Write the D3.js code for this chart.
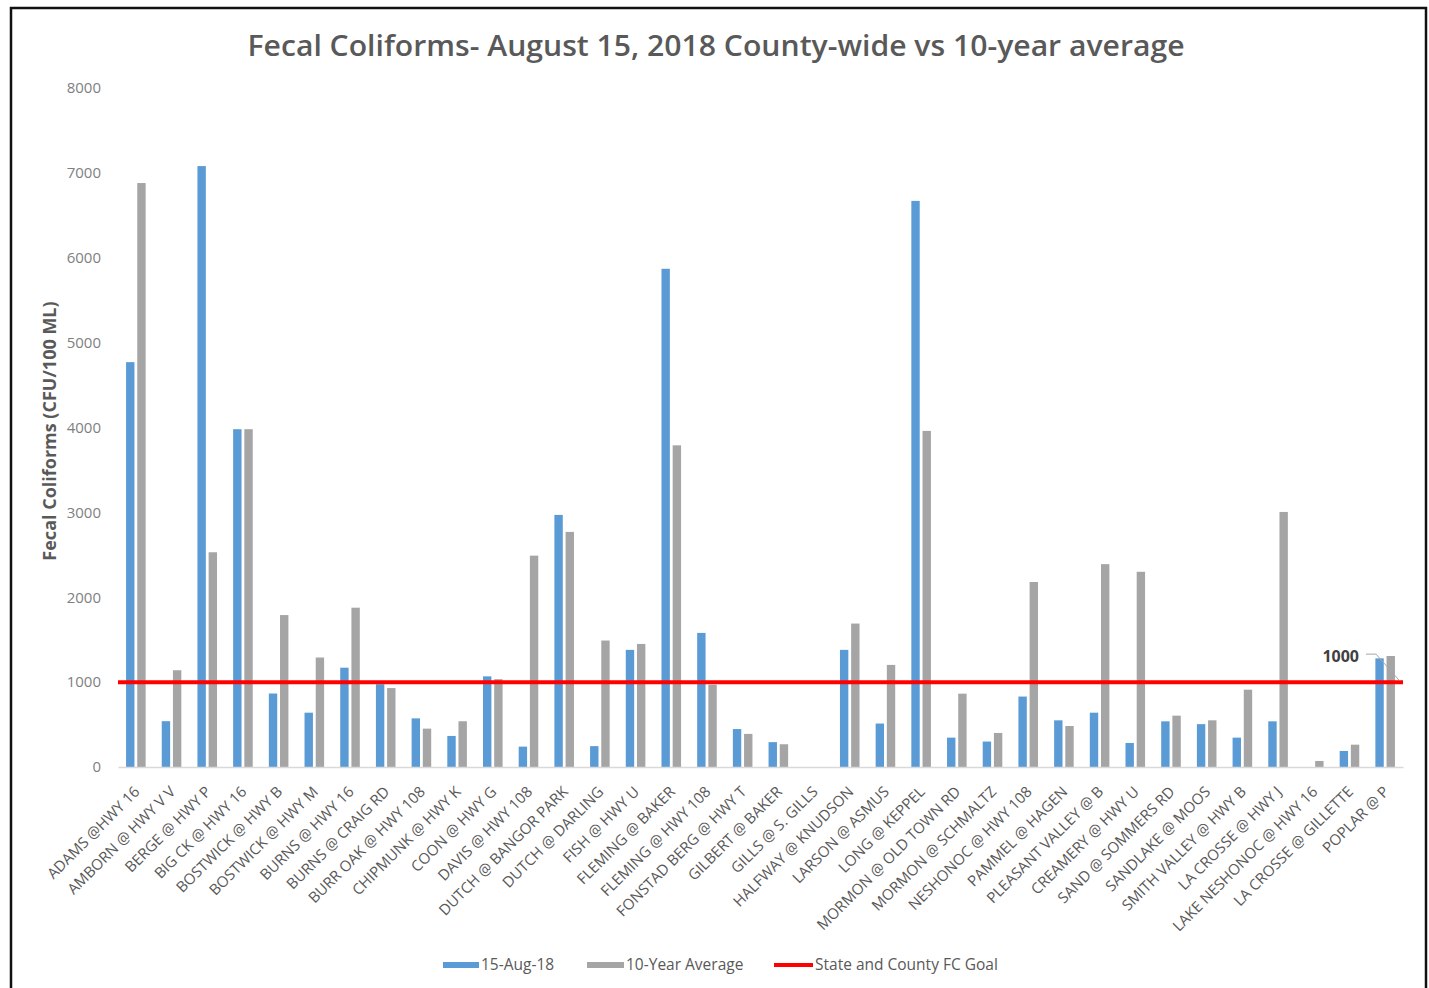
<!DOCTYPE html>
<html>
<head>
<meta charset="utf-8">
<script src="https://cdn.jsdelivr.net/npm/d3@7/dist/d3.min.js"></script>
<style>
  body { margin: 0; background: #fff; }
  text { font-family: "Open Sans", "Liberation Sans", sans-serif; }
</style>
</head>
<body>
<script>
// sampling sites, in chart order
const sites = [
  'ADAMS @HWY 16', 'AMBORN @ HWY V V', 'BERGE @ HWY P', 'BIG CK @ HWY 16',
  'BOSTWICK @ HWY B', 'BOSTWICK @ HWY M', 'BURNS @ HWY 16', 'BURNS @ CRAIG RD',
  'BURR OAK @ HWY 108', 'CHIPMUNK @ HWY K', 'COON @ HWY G', 'DAVIS @ HWY 108',
  'DUTCH @ BANGOR PARK', 'DUTCH @ DARLING', 'FISH @ HWY U', 'FLEMING @ BAKER',
  'FLEMING @ HWY 108', 'FONSTAD BERG @ HWY T', 'GILBERT @ BAKER', 'GILLS @ S. GILLS',
  'HALFWAY @ KNUDSON', 'LARSON @ ASMUS', 'LONG @ KEPPEL', 'MORMON @ OLD TOWN RD',
  'MORMON @ SCHMALTZ', 'NESHONOC @ HWY 108', 'PAMMEL @ HAGEN', 'PLEASANT VALLEY @ B',
  'CREAMERY @ HWY U', 'SAND @ SOMMERS RD', 'SANDLAKE @ MOOS', 'SMITH VALLEY @ HWY B',
  'LA CROSSE @ HWY J', 'LAKE NESHONOC @ HWY 16', 'LA CROSSE @ GILLETTE', 'POPLAR @ P'
];

// 15-Aug-18 sample
const aug15 = [
  4770, 540, 7080, 3980, 866, 640, 1170, 975,
  573, 366, 1068, 240, 2970, 246, 1380, 5870,
  1580, 447, 293, 0, 1380, 512, 6670, 346,
  300, 830, 550, 640, 283, 538, 505, 346,
  538, 0, 189, 1280
];

// 10-year average
const tenYearAvg = [
  6880, 1140, 2530, 3980, 1790, 1290, 1877, 930,
  452, 539, 1035, 2490, 2770, 1490, 1450, 3790,
  970, 390, 268, 0, 1690, 1203, 3960, 864,
  401, 2180, 483, 2390, 2300, 605, 550, 911,
  3005, 71, 263, 1308
];

const goal = 1000;
const yTicks = [0, 1000, 2000, 3000, 4000, 5000, 6000, 7000, 8000];
const seriesNames = ['15-Aug-18', '10-Year Average', 'State and County FC Goal'];
const colors = ['#5b9bd5', '#a5a5a5', '#ff0000'];

const W = 1429, H = 988;
const plot = { left: 118, right: 1403, top: 88, bottom: 767 };

const svg = d3.select('body').append('svg')
  .attr('width', W)
  .attr('height', H);

// frame round the whole chart
svg.append('rect')
  .attr('x', 11).attr('y', 8)
  .attr('width', 1415).attr('height', 1000)
  .attr('fill', 'none')
  .attr('stroke', '#111')
  .attr('stroke-width', 2.5);

const x0 = d3.scaleBand().domain(sites).range([plot.left, plot.right]);
const x1 = d3.scaleBand().domain([0, 1]).range([0, x0.bandwidth()])
  .paddingInner(0.25).paddingOuter(0.72);
const y = d3.scaleLinear().domain([0, 8000]).range([plot.bottom, plot.top]);

// title
svg.append('text')
  .attr('x', 716).attr('y', 56)
  .attr('text-anchor', 'middle')
  .attr('font-size', 28)
  .attr('font-weight', 600)
  .attr('fill', '#595959')
  .attr('textLength', 937)
  .attr('lengthAdjust', 'spacingAndGlyphs')
  .text('Fecal Coliforms- August 15, 2018 County-wide vs 10-year average');

// y axis
const yAxis = d3.axisLeft(y).tickValues(yTicks).tickFormat(d3.format('d'))
  .tickSize(0).tickPadding(17);
const yG = svg.append('g')
  .attr('transform', `translate(${plot.left},0)`)
  .call(yAxis);
yG.select('.domain').remove();
yG.selectAll('text')
  .attr('font-family', null)
  .attr('font-size', 15)
  .attr('fill', '#7f7f7f');

svg.append('text')
  .attr('transform', 'translate(56,431) rotate(-90)')
  .attr('text-anchor', 'middle')
  .attr('font-size', 18)
  .attr('font-weight', 700)
  .attr('fill', '#595959')
  .text('Fecal Coliforms (CFU/100 ML)');

// bars
const groups = svg.append('g').selectAll('g')
  .data(sites)
  .join('g')
  .attr('transform', d => `translate(${x0(d)},0)`);

groups.selectAll('rect')
  .data((d, i) => [aug15[i], tenYearAvg[i]])
  .join('rect')
  .attr('x', (d, j) => x1(j))
  .attr('y', d => y(d))
  .attr('width', x1.bandwidth())
  .attr('height', d => y(0) - y(d))
  .attr('fill', (d, j) => colors[j]);

// x axis
const xAxis = d3.axisBottom(x0).tickSize(0);
const xG = svg.append('g')
  .attr('transform', `translate(0,${plot.bottom})`)
  .call(xAxis);
xG.select('.domain').attr('stroke', '#d9d9d9').attr('stroke-width', 1.5);
xG.selectAll('text')
  .attr('font-family', null)
  .attr('font-size', 15)
  .attr('fill', '#595959')
  .attr('x', 0).attr('y', 0).attr('dy', '0.35em')
  .attr('transform', 'translate(1,22) rotate(-45)')
  .style('text-anchor', 'end');

// goal line
svg.append('line')
  .attr('x1', plot.left).attr('x2', plot.right)
  .attr('y1', y(goal)).attr('y2', y(goal))
  .attr('stroke', colors[2])
  .attr('stroke-width', 4);

// data label for the goal, at the last site
const gx = plot.right, gy = y(goal);
svg.append('polyline')
  .attr('points', [[gx - 37, gy - 28], [gx - 27, gy - 28], [gx - 4, gy - 2]].join(' '))
  .attr('fill', 'none')
  .attr('stroke', '#a6a6a6')
  .attr('stroke-width', 1);
svg.append('text')
  .attr('x', gx - 44).attr('y', gy - 20)
  .attr('text-anchor', 'end')
  .attr('font-size', 16)
  .attr('font-weight', 700)
  .attr('fill', '#404040')
  .text(goal);

// legend
const legendItems = [
  { name: seriesNames[0], color: colors[0], x: 443, w: 36, h: 6 },
  { name: seriesNames[1], color: colors[1], x: 587, w: 37, h: 6 },
  { name: seriesNames[2], color: colors[2], x: 774, w: 39, h: 4 }
];
const legend = svg.append('g').attr('transform', 'translate(0,965)');
legendItems.forEach(it => {
  legend.append('rect')
    .attr('x', it.x).attr('y', -it.h / 2)
    .attr('width', it.w).attr('height', it.h)
    .attr('fill', it.color);
  legend.append('text')
    .attr('x', it.x + it.w + 2).attr('y', 0)
    .attr('dy', '0.35em')
    .attr('font-size', 15.5)
    .attr('fill', '#595959')
    .text(it.name);
});
</script>
</body>
</html>
